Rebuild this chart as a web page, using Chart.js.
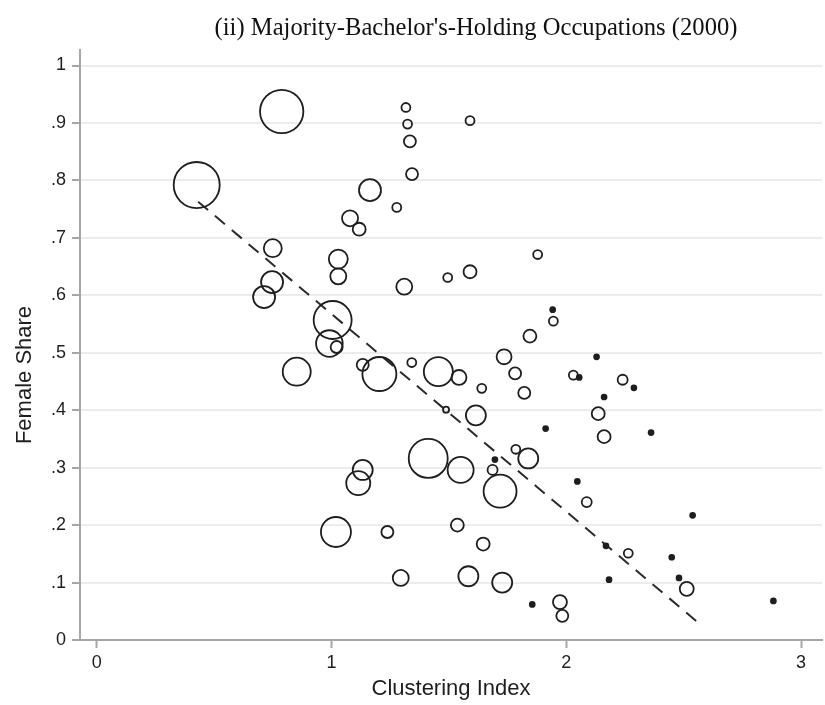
<!DOCTYPE html>
<html>
<head>
<meta charset="utf-8">
<script src="https://cdn.jsdelivr.net/npm/chart.js@4.4.0/dist/chart.umd.min.js"></script>
<style>
  html, body { margin: 0; padding: 0; background: #fff; }
</style>
</head>
<body>
<canvas id="c" width="825" height="705"></canvas>
<script>
// values
const chartTitle = "(ii) Majority-Bachelor's-Holding Occupations (2000)";
const xTitle = 'Clustering Index';
const yTitle = 'Female Share';
const clusteringIndex = [
  0.788, 0.426, 0.750, 0.747, 0.713, 1.029, 1.029, 1.005, 0.991, 1.022,
  0.852, 1.133, 1.204, 1.133, 1.114, 1.019, 1.238, 1.317, 1.324, 1.334,
  1.343, 1.590, 1.164, 1.278, 1.079, 1.118, 1.310, 1.495, 1.590, 1.878,
  1.942, 1.945, 1.845, 1.735, 1.782, 1.821, 1.342, 1.455, 1.543, 1.640,
  1.488, 1.615, 1.912, 1.412, 1.550, 1.785, 1.838, 1.696, 1.686, 1.718,
  1.536, 1.646, 1.295, 1.583, 1.727, 1.855, 1.973, 1.983, 2.030, 2.055,
  2.129, 2.240, 2.288, 2.161, 2.136, 2.161, 2.361, 2.047, 2.087, 2.169,
  2.264, 2.182, 2.538, 2.449, 2.480, 2.513, 2.882
];
const femaleShare = [
  0.920, 0.792, 0.682, 0.623, 0.597, 0.663, 0.633, 0.557, 0.516, 0.510,
  0.467, 0.479, 0.463, 0.296, 0.273, 0.188, 0.188, 0.927, 0.898, 0.868,
  0.811, 0.904, 0.783, 0.753, 0.734, 0.715, 0.615, 0.631, 0.641, 0.671,
  0.575, 0.555, 0.529, 0.493, 0.464, 0.430, 0.483, 0.467, 0.457, 0.438,
  0.401, 0.391, 0.368, 0.316, 0.296, 0.332, 0.316, 0.314, 0.296, 0.259,
  0.200, 0.167, 0.108, 0.111, 0.100, 0.062, 0.066, 0.042, 0.461, 0.457,
  0.493, 0.453, 0.439, 0.423, 0.394, 0.354, 0.361, 0.276, 0.240, 0.164,
  0.151, 0.105, 0.217, 0.144, 0.108, 0.089, 0.068
];
// marker weight (area units)
const markerWeight = [
  470, 530, 81, 121, 121, 90, 64, 361, 177, 36,
  196, 36, 289, 100, 144, 225, 36, 20, 20, 36,
  36, 20, 121, 20, 64, 42, 64, 20, 42, 20,
  6, 20, 42, 56, 36, 36, 20, 210, 56, 20,
  9, 100, 6, 380, 169, 20, 100, 6, 25, 272,
  42, 42, 64, 100, 100, 6, 49, 36, 20, 6,
  6, 25, 6, 6, 42, 42, 6, 6, 25, 6,
  20, 6, 6, 6, 6, 49, 6
];
const fitX = [0.432, 2.577];
const fitY = [0.763, 0.025];
const xTicks = [0, 1, 2, 3];
const xTickLabels = ['0', '1', '2', '3'];
const yTicks = [0, 0.1, 0.2, 0.3, 0.4, 0.5, 0.6, 0.7, 0.8, 0.9, 1];
const yTickLabels = ['0', '.1', '.2', '.3', '.4', '.5', '.6', '.7', '.8', '.9', '1'];

const points = clusteringIndex.map((x, i) => ({x: x, y: femaleShare[i]}));
const fitLine = fitX.map((x, i) => ({x: x, y: fitY[i]}));

const axisGray = '#a6a6a6';
const inkColor = '#1e1e1e';

// big markers must not push the plot area inwards (stata lets them spill)
Chart.ScatterController.prototype.getMaxOverflow = function () { return 0; };

function markerRadius(ctx) {
  return Math.sqrt(markerWeight[ctx.dataIndex]);
}

// chart title and rotated y title, drawn as text
const textPlugin = {
  id: 'stataText',
  afterDraw(chart) {
    const ctx = chart.ctx;
    ctx.save();
    ctx.font = '24.6px "Liberation Serif"';
    ctx.fillStyle = '#111';
    ctx.textAlign = 'center';
    ctx.textBaseline = 'alphabetic';
    ctx.fillText(chartTitle, 476, 35);

    ctx.font = '22px "Liberation Sans"';
    ctx.fillStyle = inkColor;
    ctx.textBaseline = 'middle';
    ctx.translate(25, 375);
    ctx.rotate(-Math.PI / 2);
    ctx.fillText(yTitle, 0, 0);
    ctx.restore();
  }
};

new Chart(document.getElementById('c'), {
  data: {
    datasets: [
      {
        type: 'scatter',
        data: points,
        borderColor: inkColor,
        borderWidth: 1.8,
        pointRadius: markerRadius,
        pointHoverRadius: markerRadius,
        pointBackgroundColor: ctx => markerWeight[ctx.dataIndex] < 8 ? inkColor : 'rgba(0,0,0,0)',
        pointBorderColor: inkColor,
        pointBorderWidth: 1.8
      },
      {
        type: 'line',
        data: fitLine,
        borderColor: '#2a2a2a',
        borderWidth: 2,
        borderDash: [13, 9],
        pointRadius: 0,
        fill: false
      }
    ]
  },
  options: {
    responsive: false,
    animation: false,
    layout: {padding: {top: 50, right: 3, left: 0, bottom: 0}},
    plugins: {
      legend: {display: false},
      tooltip: {enabled: false}
    },
    scales: {
      x: {
        type: 'linear',
        min: -0.071,
        max: 3.089,
        afterBuildTicks: s => { s.ticks = xTicks.map(v => ({value: v})); },
        afterFit: s => { s.height = 65; },
        grid: {drawOnChartArea: false, drawTicks: true, tickLength: 8, tickColor: axisGray, tickWidth: 2},
        border: {color: axisGray, width: 2},
        ticks: {
          color: inkColor,
          font: {family: 'Liberation Sans', size: 18},
          padding: 4,
          maxRotation: 0,
          callback: (v, i) => xTickLabels[i]
        },
        title: {
          display: true,
          text: xTitle,
          color: inkColor,
          font: {family: 'Liberation Sans', size: 22},
          padding: {top: 0, bottom: 3}
        }
      },
      y: {
        type: 'linear',
        min: 0,
        max: 1.027,
        afterBuildTicks: s => { s.ticks = yTicks.map(v => ({value: v})); },
        afterFit: s => { s.width = 80; },
        grid: {color: '#ececec', lineWidth: 2, tickLength: 8, tickColor: axisGray, tickWidth: 2},
        border: {color: axisGray, width: 2},
        ticks: {
          color: inkColor,
          font: {family: 'Liberation Sans', size: 18},
          padding: 6,
          callback: (v, i) => yTickLabels[i]
        },
        title: {display: false}
      }
    }
  },
  plugins: [textPlugin]
});
</script>
</body>
</html>
